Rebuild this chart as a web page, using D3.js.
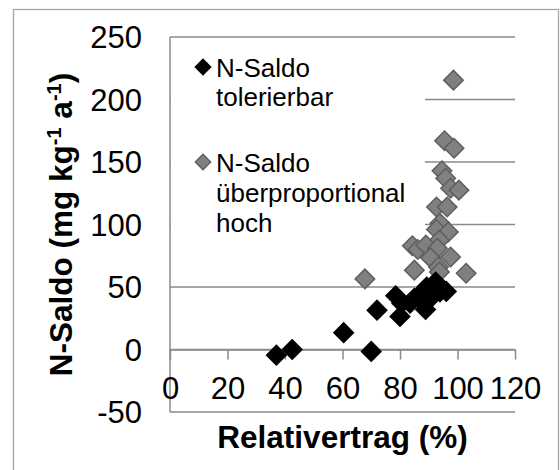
<!DOCTYPE html>
<html>
<head>
<meta charset="utf-8">
<script src="https://cdn.jsdelivr.net/npm/d3@7"></script>
<style>
  body { margin: 0; background: #fff; }
  svg { font-family: "Liberation Sans", Arial, sans-serif; }
</style>
</head>
<body>
<svg></svg>
<script>
// data: Relativertrag (%) / N-Saldo
var tolX = [37, 42.5, 60.4, 70, 72, 78.5, 80.6, 80, 83.5, 85, 86.4, 87.4, 88.9, 89.3, 90.6, 91.8, 92.4, 93.9, 96.1, 88, 90];
var tolY = [-4.5, 0, 13.5, -1.5, 31.5, 43, 37, 26.5, 37, 41, 42, 45, 32, 50, 41, 50, 54, 46, 46.5, 38, 44];

var hochX = [98.6, 95.5, 98.8, 94.6, 95.9, 97.6, 100.5, 92.7, 96.4, 93.9, 92.7, 96.8, 93.7, 84.3, 86.2, 89, 93, 90.6, 97.6, 85, 93.4, 93.7, 103, 67.8];
var hochY = [215.5, 167, 161, 143, 137, 129, 127.5, 114, 114, 101, 96, 94, 87.5, 83, 80, 83.5, 81, 73.5, 74, 63.5, 66, 62, 61, 56.5];

var xTicks = [0, 20, 40, 60, 80, 100, 120];
var yTicks = [-50, 0, 50, 100, 150, 200, 250];
var legendNames = [["N-Saldo", "tolerierbar"], ["N-Saldo", "überproportional", "hoch"]];

var svgWidth = 560, svgHeight = 470;
var svg = d3.select("svg").attr("width", svgWidth).attr("height", svgHeight);

var x = d3.scaleLinear().domain([0, 120]).range([170, 515]);
var y = d3.scaleLinear().domain([-50, 250]).range([412, 37]);

var gridColor = "#8a8a8a";

// chart frame
svg.append("rect")
   .attr("x", 13.5).attr("y", 9.5)
   .attr("width", 545).attr("height", 470)
   .attr("fill", "#fff").attr("stroke", "#a6a6a6").attr("stroke-width", 1.3);

// horizontal gridlines
svg.append("g").selectAll("line")
   .data(yTicks)
   .enter().append("line")
   .attr("x1", x(0)).attr("x2", x(120))
   .attr("y1", function(d){ return y(d); })
   .attr("y2", function(d){ return y(d); })
   .attr("stroke", gridColor).attr("stroke-width", 1.5);

// vertical axis line
svg.append("line")
   .attr("x1", x(0)).attr("x2", x(0))
   .attr("y1", y(250)).attr("y2", y(-50))
   .attr("stroke", gridColor).attr("stroke-width", 1.5);

// x axis crosses at 0, ticks pointing down
var xAxis = svg.append("g")
   .attr("transform", "translate(0," + y(0) + ")")
   .call(d3.axisBottom(x).tickValues(xTicks).tickSize(10).tickSizeOuter(0).tickFormat(d3.format("d")));
xAxis.select(".domain").attr("stroke", gridColor).attr("stroke-width", 1.5);
xAxis.selectAll(".tick line").attr("stroke", gridColor).attr("stroke-width", 1.5);
xAxis.selectAll(".tick text")
     .attr("y", 27).attr("dy", "0.71em")
     .attr("font-size", 31).attr("fill", "#000")
     .attr("font-family", "Liberation Sans, Arial, sans-serif");

// y tick labels
svg.append("g").selectAll("text")
   .data(yTicks)
   .enter().append("text")
   .attr("x", 142)
   .attr("y", function(d){ return y(d); })
   .attr("dy", "0.36em")
   .attr("text-anchor", "end")
   .attr("font-size", 31)
   .text(function(d){ return d; });

// axis titles
svg.append("text")
   .attr("x", (x(0) + x(120)) / 2).attr("y", 448)
   .attr("text-anchor", "middle")
   .attr("font-size", 31.5).attr("font-weight", "bold")
   .text("Relativertrag (%)");

var yTitle = svg.append("text")
   .attr("transform", "translate(72," + ((y(250) + y(-50)) / 2) + ") rotate(-90)")
   .attr("text-anchor", "middle")
   .attr("font-size", 31.5).attr("font-weight", "bold");
yTitle.append("tspan").text("N-Saldo (mg kg");
yTitle.append("tspan").attr("font-size", 20).attr("dy", -11).text("-1");
yTitle.append("tspan").attr("dy", 11).text(" a");
yTitle.append("tspan").attr("font-size", 20).attr("dy", -11).text("-1");
yTitle.append("tspan").attr("dy", 11).text(")");

// legend box (hides the gridlines behind it)
svg.append("rect")
   .attr("x", x(0) + 1).attr("y", 45)
   .attr("width", 254).attr("height", 200)
   .attr("fill", "#fff");

var diamond = d3.symbol().type(d3.symbolSquare);

var legendMarks = [{fill: "#000", stroke: "#000", y: 67}, {fill: "#808080", stroke: "#5e5e5e", y: 162}];
var legendLines = [[77, 106], [172, 202, 232]];

legendMarks.forEach(function(m, i){
  svg.append("path")
     .attr("d", diamond.size(120)())
     .attr("transform", "translate(203," + m.y + ") rotate(45)")
     .attr("fill", m.fill).attr("stroke", m.stroke).attr("stroke-width", 1.3);
  legendNames[i].forEach(function(t, j){
    svg.append("text")
       .attr("x", 216).attr("y", legendLines[i][j])
       .attr("font-size", 26)
       .text(t);
  });
});

// points
var hoch = hochX.map(function(v, i){ return {x: v, y: hochY[i]}; });
var tol = tolX.map(function(v, i){ return {x: v, y: tolY[i]}; });

svg.append("g").selectAll("path")
   .data(hoch)
   .enter().append("path")
   .attr("d", diamond.size(190)())
   .attr("transform", function(d){ return "translate(" + x(d.x) + "," + y(d.y) + ") rotate(45)"; })
   .attr("fill", "#808080").attr("stroke", "#5e5e5e").attr("stroke-width", 1.5);

svg.append("g").selectAll("path")
   .data(tol)
   .enter().append("path")
   .attr("d", diamond.size(190)())
   .attr("transform", function(d){ return "translate(" + x(d.x) + "," + y(d.y) + ") rotate(45)"; })
   .attr("fill", "#000").attr("stroke", "#000").attr("stroke-width", 1.5);
</script>
</body>
</html>
